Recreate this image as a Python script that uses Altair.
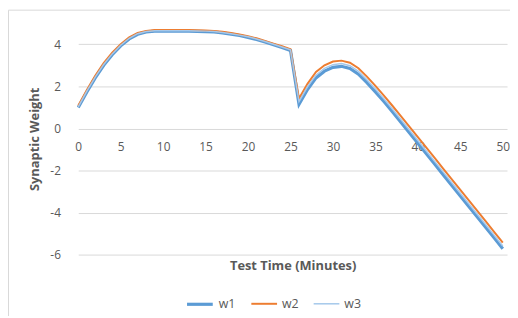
import altair as alt
import pandas as pd

t = list(range(0, 51))

w1 = [1.00, 1.72, 2.40, 3.00, 3.50, 3.92, 4.25, 4.47, 4.58, 4.62,
      4.62, 4.62, 4.62, 4.62, 4.61, 4.60, 4.58, 4.54, 4.48, 4.41,
      4.32, 4.22, 4.10, 3.97, 3.84, 3.70, 1.15, 1.85, 2.40, 2.72,
      2.90, 2.95, 2.85, 2.58, 2.18, 1.74, 1.28, 0.80, 0.30, -0.20,
      -0.70, -1.20, -1.70, -2.20, -2.70, -3.20, -3.70, -4.20, -4.70, -5.20,
      -5.70]

w2 = [1.08, 1.82, 2.50, 3.10, 3.60, 4.00, 4.32, 4.53, 4.63, 4.67,
      4.67, 4.67, 4.67, 4.67, 4.66, 4.65, 4.63, 4.59, 4.53, 4.46,
      4.38, 4.28, 4.16, 4.03, 3.90, 3.76, 1.42, 2.12, 2.68, 3.00,
      3.18, 3.22, 3.12, 2.86, 2.46, 2.02, 1.56, 1.08, 0.59, 0.09,
      -0.41, -0.91, -1.41, -1.91, -2.41, -2.91, -3.41, -3.91, -4.41, -4.91,
      -5.41]

w3 = [1.03, 1.76, 2.44, 3.04, 3.54, 3.95, 4.28, 4.50, 4.60, 4.64,
      4.64, 4.64, 4.64, 4.64, 4.63, 4.62, 4.60, 4.56, 4.50, 4.43,
      4.35, 4.25, 4.13, 4.00, 3.87, 3.73, 1.28, 1.98, 2.53, 2.85,
      3.03, 3.08, 2.98, 2.71, 2.31, 1.87, 1.41, 0.93, 0.43, -0.07,
      -0.57, -1.07, -1.57, -2.07, -2.57, -3.07, -3.57, -4.07, -4.57, -5.07,
      -5.57]

series_names = ["w1", "w2", "w3"]
series_colors = ["#5B9BD5", "#ED7D31", "#A5C8EA"]
series_widths = [3.2, 2.0, 1.5]

x_ticks = list(range(0, 51, 5))
y_ticks = [-6, -4, -2, 0, 2, 4]

rows = []
for name, vals in zip(series_names, [w1, w2, w3]):
    for ti, v in zip(t, vals):
        rows.append({"t": ti, "v": v, "series": name})
df = pd.DataFrame(rows)

FONT = "Open Sans"
TXT = "#595959"

lines = alt.Chart(df).mark_line(interpolate="linear").encode(
    x=alt.X("t:Q",
            scale=alt.Scale(domain=[0, 50.5], nice=False, zero=False),
            axis=alt.Axis(values=x_ticks, grid=False, domain=False, ticks=False,
                          labelPadding=-115, labelFontSize=12, labelColor=TXT,
                          labelFont=FONT, labelFlush=False,
                          title="Test Time (Minutes)", titleFont=FONT,
                          titleFontSize=13, titleFontWeight="bold",
                          titleColor=TXT, titleY=5)),
    y=alt.Y("v:Q",
            scale=alt.Scale(domain=[-6, 5], nice=False, zero=False),
            axis=alt.Axis(values=y_ticks, grid=True, gridColor="#D9D9D9",
                          gridWidth=1, domain=False, ticks=False,
                          labelPadding=18, labelFontSize=12, labelColor=TXT,
                          labelFont=FONT,
                          labelExpr="toString(datum.value)",
                          title="Synaptic Weight", titleFont=FONT,
                          titleFontSize=13, titleFontWeight="bold",
                          titleColor=TXT, titleX=-37, titleY=117)),
    color=alt.Color("series:N",
                    scale=alt.Scale(domain=series_names, range=series_colors),
                    legend=alt.Legend(title=None, orient="none",
                                      direction="horizontal",
                                      legendX=108, legendY=269,
                                      symbolType="stroke", symbolSize=676,
                                      symbolStrokeWidth=2.5,
                                      labelFontSize=12.5, labelColor=TXT,
                                      labelFont=FONT, labelOffset=4,
                                      columnPadding=12)),
    strokeWidth=alt.StrokeWidth("series:N",
                                scale=alt.Scale(type="ordinal",
                                                domain=series_names,
                                                range=series_widths),
                                legend=None),
    detail="series:N",
)

frame = alt.Chart(pd.DataFrame({"a": [0]})).mark_rect(
    fill="transparent", stroke="#D9D9D9", strokeWidth=1
).encode(
    x=alt.value(-70.5), x2=alt.value(700),
    y=alt.value(-13.1), y2=alt.value(700),
)

chart = alt.layer(frame, lines).properties(
    width=433.5, height=234.4,
    autosize=alt.AutoSizeParams(type="none"),
    padding={"left": 71, "top": 13.6, "right": 3, "bottom": 60},
).configure_view(stroke=None)

chart.save("out.html", embed_options={"renderer": "svg", "actions": False})
